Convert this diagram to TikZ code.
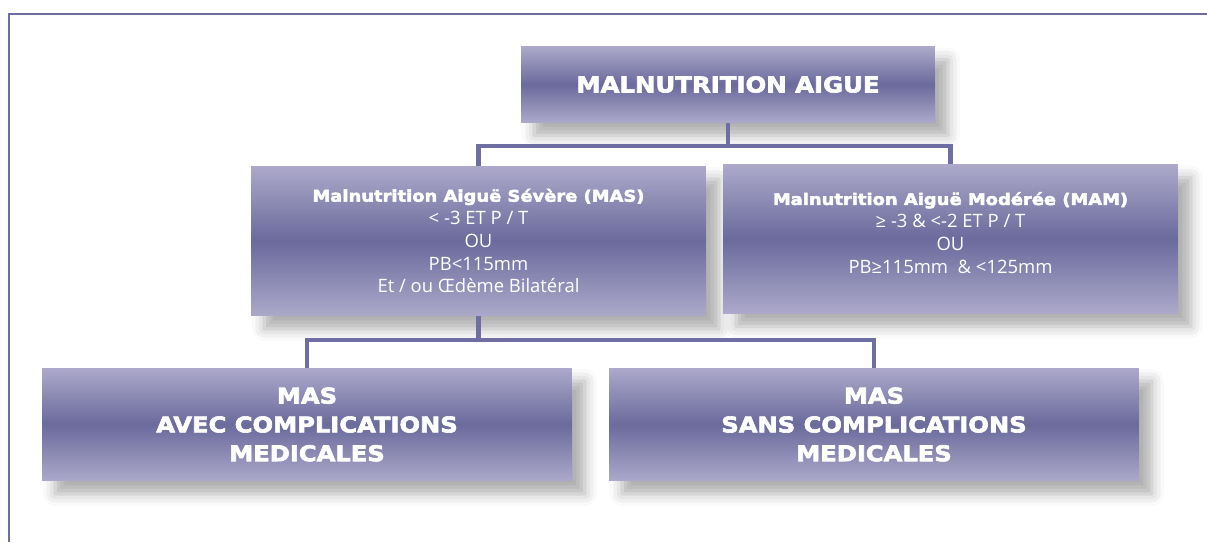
\documentclass[tikz,border=0pt]{standalone}
\usepackage{fontspec}
\setmainfont{Open Sans}
\newfontfamily\heavyfont[FakeStretch=1.12, FakeBold=3]{DejaVu Sans Bold}
\usetikzlibrary{shadows.blur}

\definecolor{boxdark}{HTML}{6A6A9C}
\definecolor{boxlight}{HTML}{ACA9CA}
\definecolor{framec}{HTML}{6E6EA2}

\tikzset{
  box/.style={shading=axis, top color=boxlight, bottom color=boxlight, middle color=boxdark,
    blur shadow={shadow xshift=0.26cm, shadow yshift=-0.26cm, shadow blur radius=0.24cm, shadow opacity=32},
    text=white, align=center, inner sep=0pt},
  link/.style={framec, line width=2.6pt},
  titre/.style={font=\heavyfont\fontsize{12.4}{15}\selectfont},
  soustitre/.style={font=\fontsize{10.5}{13}\selectfont},
  bas/.style={font=\heavyfont\fontsize{12.3}{16.4}\selectfont},
}

\begin{document}
\begin{tikzpicture}[x=0.02cm, y=-0.02cm]
    \useasboundingbox (0,0) rectangle (1207,542);
    % cadre
    \draw[framec, line width=1.7pt] (9,542)--(9,14)--(1207,14);

    \node[box, titre, minimum width=8.28cm, minimum height=1.52cm] (aigue) at (728,84.5) {MALNUTRITION AIGUE};
    \node[box, soustitre, minimum width=9.1cm, minimum height=3cm] (mas) at (478.5,241)
        {{\heavyfont\fontsize{9.1}{13}\selectfont Malnutrition Aiguë Sévère (MAS)}\\ < -3 ET P / T\\ OU\\ PB<115mm\\ Et / ou Œdème Bilatéral};
    \node[box, soustitre, minimum width=9.1cm, minimum height=2.98cm] (mam) at (950.5,239)
        {{\heavyfont\fontsize{9.1}{13}\selectfont Malnutrition Aiguë Modérée (MAM)}\\ ≥ -3 \& <-2 ET P / T\\ OU\\ PB≥115mm \ \& <125mm\\[-6pt]};
    \node[box, bas, minimum width=10.6cm, minimum height=2.26cm] (avec) at (307,424.5) {MAS\\ AVEC COMPLICATIONS\\ MEDICALES};
    \node[box, bas, minimum width=10.6cm, minimum height=2.26cm] (sans) at (874,424.5) {MAS\\ SANS COMPLICATIONS\\ MEDICALES};

    % liaisons
    \coordinate (bus1) at (728,146);
    \coordinate (bus2) at (482,340);
    \draw[link] (aigue.south)--(aigue.south |- bus1);
    \draw[link] (mas.north)|-(bus1)-|(mam.north);
    \draw[link] (mas.south)--(mas.south |- bus2);
    \draw[link] (avec.north)|-(bus2)-|(sans.north);
\end{tikzpicture}
\end{document}
